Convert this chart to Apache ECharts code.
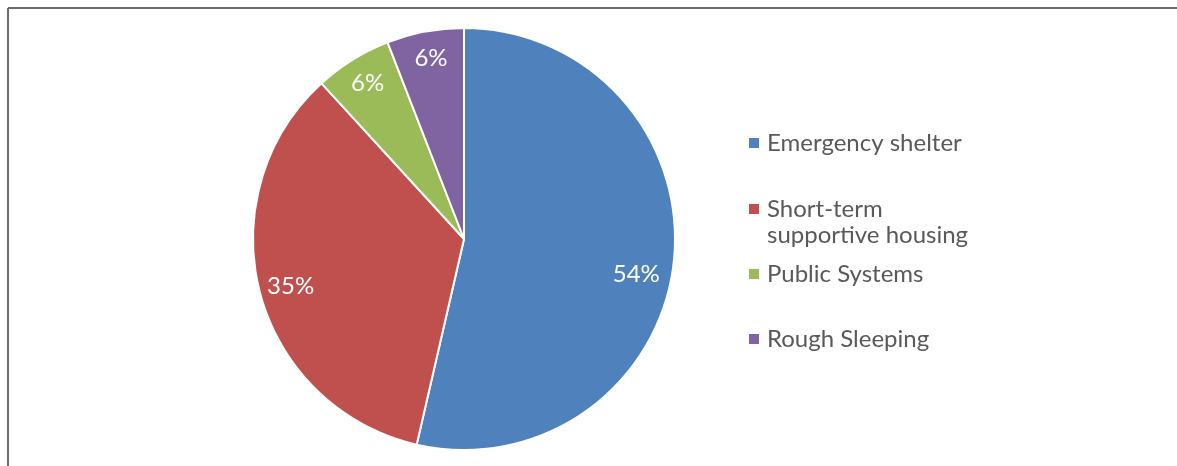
<!DOCTYPE html>
<html>
<head>
<meta charset="utf-8">
<script src="https://cdn.jsdelivr.net/npm/echarts@6/dist/echarts.min.js"></script>
<style>
  html, body { margin: 0; padding: 0; background: #fff; }
  #main { width: 1177px; height: 466px; }
</style>
</head>
<body>
<div id="main"></div>
<script>
// categories and shares (labels show rounded %)
var categories = ["Emergency shelter", "Short-term\nsupportive housing", "Public Systems", "Rough Sleeping"];
var shares = [53.6, 34.6, 5.9, 5.9];
var colors = ["#4F81BD", "#C0504D", "#9BBB59", "#8064A2"];

var font = "Lato, 'Open Sans', sans-serif";

var pieData = categories.map(function (name, i) {
  return { name: name, value: shares[i], itemStyle: { color: colors[i] } };
});
var labelData = categories.map(function (name, i) {
  return { name: name, value: shares[i] };
});

// legend rows (icon centre y)
var legendRows = [143, 209, 274, 339];
var legends = categories.map(function (name, i) {
  var twoLine = name.indexOf("\n") >= 0;
  return {
    orient: "vertical",
    left: 747,
    top: twoLine ? legendRows[i] - 39 : legendRows[i] - 13,
    padding: 0,
    itemWidth: 12,
    itemHeight: 12,
    icon: "rect",
    selectedMode: false,
    data: [name],
    // empty first line keeps the first text line level with the marker
    formatter: function (n) { return n.indexOf("\n") >= 0 ? " \n" + n : n; },
    textStyle: { fontFamily: font, fontSize: 24, color: "#595959", lineHeight: 26, padding: [0, 0, 0, 2] }
  };
});

var myChart = echarts.init(document.getElementById("main"));
myChart.setOption({
  animation: false,
  legend: legends,
  graphic: [
    { type: "line", shape: { x1: 8, y1: 8, x2: 1177, y2: 8 }, style: { stroke: "#6b6b6b", lineWidth: 2 } },
    { type: "line", shape: { x1: 8, y1: 8, x2: 8, y2: 466 }, style: { stroke: "#6b6b6b", lineWidth: 2 } }
  ],
  series: [
    {
      name: "main",
      type: "pie",
      center: [464, 239],
      radius: [0, 211],
      startAngle: 90,
      clockwise: true,
      label: { show: false },
      labelLine: { show: false },
      itemStyle: { borderColor: "#fff", borderWidth: 2 },
      emphasis: { disabled: true },
      data: pieData
    },
    {
      // transparent ring used only to place the % labels near the rim
      name: "labels",
      type: "pie",
      center: [464, 239],
      radius: [152, 211],
      startAngle: 90,
      clockwise: true,
      silent: true,
      itemStyle: { color: "rgba(0,0,0,0)" },
      label: {
        show: true,
        position: "inside",
        color: "#fff",
        fontFamily: font,
        fontSize: 24,
        formatter: function (p) { return Math.round(p.percent) + "%"; }
      },
      labelLayout: function (p) {
        if (p.dataIndex === 0) return { dx: -11, dy: 14 };
        if (p.dataIndex === 1) return { dx: 5, dy: 0 };
        return { dx: 1, dy: 1 };
      },
      labelLine: { show: false },
      emphasis: { disabled: true },
      data: labelData
    }
  ]
});
</script>
</body>
</html>
